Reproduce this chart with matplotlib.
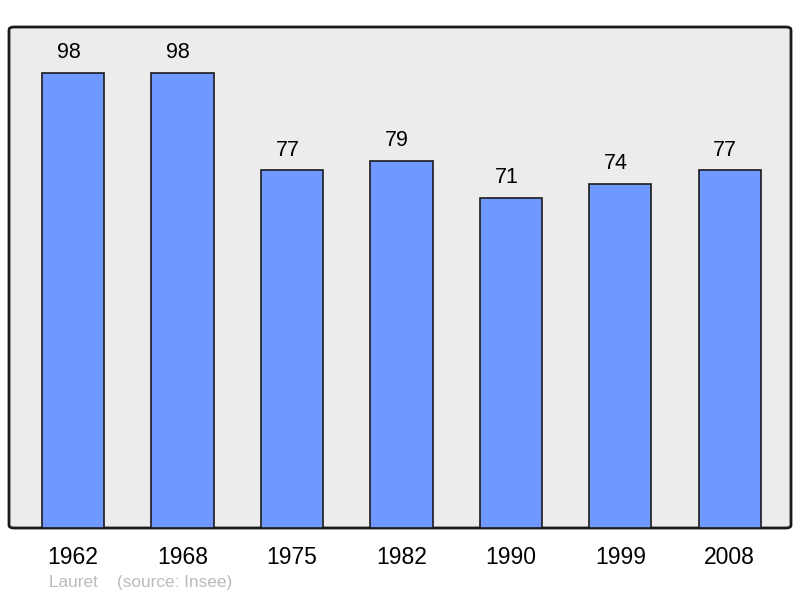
import matplotlib.pyplot as plt
from matplotlib.patches import FancyBboxPatch

years = ['1962', '1968', '1975', '1982', '1990', '1999', '2008']
population = [98, 98, 77, 79, 71, 74, 77]

plt.rcParams['font.family'] = ['Liberation Sans', 'DejaVu Sans']

fig = plt.figure(figsize=(8, 5.98), dpi=100)
ax = fig.add_axes([9 / 800, 70 / 598, 782 / 800, 501 / 598])
ax.set_facecolor('none')

x = list(range(len(years)))
ax.bar(x, population, width=0.57, color='#7099ff', edgecolor='#1a1a1a',
       linewidth=1.2, zorder=2)
for xi, v in zip(x, population):
    ax.text(xi - 0.04, v + 4.4, str(v), ha='center', va='center', fontsize=15.5)

ax.set_xlim(-0.585, 6.56)
ax.set_ylim(0, 107.9)

# rounded frame with grey fill
frame = FancyBboxPatch((0, 0), 1, 1, boxstyle='round,pad=0,rounding_size=0.006',
                       transform=ax.transAxes, facecolor='#ececec',
                       edgecolor='#1a1a1a', linewidth=2, zorder=0, clip_on=False)
ax.add_patch(frame)
for s in ax.spines.values():
    s.set_visible(False)

ax.set_yticks([])
ax.set_xticks(x)
ax.set_xticklabels(years, fontsize=16.5)
ax.tick_params(axis='x', length=0, pad=13)

fig.text(49 / 800, 1 - 583 / 598, 'Lauret    (source: Insee)', fontsize=12.4,
         color='#bbbbbb', ha='left', va='center')

fig.savefig('out.png', dpi=100)
